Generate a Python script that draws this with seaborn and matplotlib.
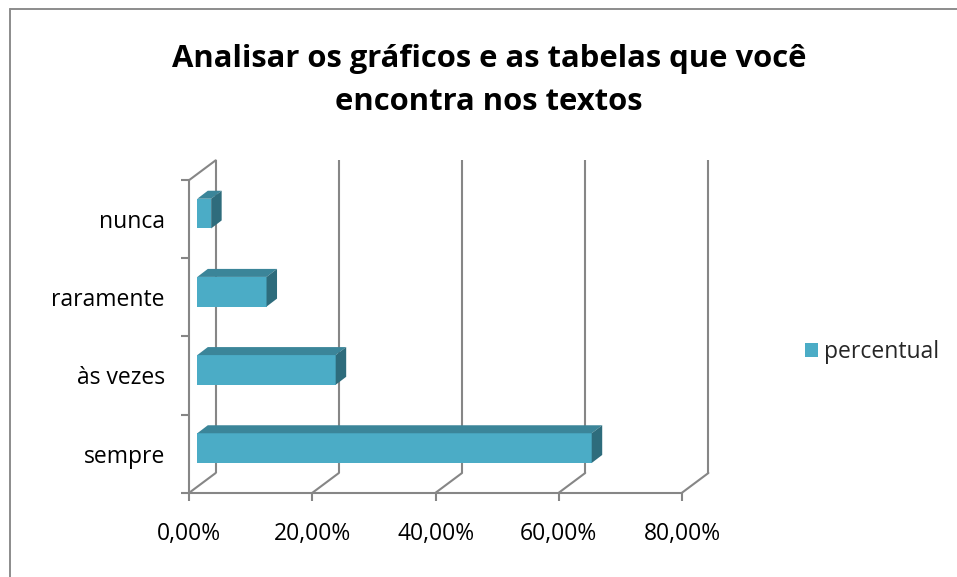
import numpy as np
import pandas as pd
import matplotlib
matplotlib.use("Agg")
import matplotlib.pyplot as plt
import seaborn as sns
from matplotlib.transforms import Affine2D, IdentityTransform
from matplotlib.patches import Polygon, Patch
from matplotlib.lines import Line2D

# ---- data ----
categories = ["nunca", "raramente", "às vezes", "sempre"]
percentual = [0.0225, 0.1124, 0.2247, 0.6404]
xticks = [0.0, 0.2, 0.4, 0.6, 0.8]
xtick_labels = ["0,00%", "20,00%", "40,00%", "60,00%", "80,00%"]
title = "Analisar os gráficos e as tabelas que você\nencontra nos textos"
series_name = "percentual"

# ---- style ----
sns.set_theme(style="white")
plt.rcParams["font.family"] = ["Open Sans", "DejaVu Sans"]

FRONT = "#4BACC6"
TOP = "#3B8599"
SIDE = "#2E6C7C"
GRID = "#868686"
W, H = 957, 577

fig = plt.figure(figsize=(W / 100, H / 100), dpi=100)
fig.patch.set_facecolor("white")

# front plane of the plot area (pixels)
x0p, x1p, ytop, ybot = 189.3, 682.0, 180.0, 492.7
ax = fig.add_axes([x0p / W, 1 - ybot / H, (x1p - x0p) / W, (ybot - ytop) / H])

df = pd.DataFrame({"categoria": categories, "percentual": percentual})
sns.barplot(data=df, y="categoria", x="percentual", order=categories,
            color=FRONT, saturation=1, width=0.38, orient="h", ax=ax,
            edgecolor="none", zorder=3)

ax.set_xlim(0, 0.8)
ax.set_ylim(len(categories) - 0.5, -0.5)
ax.set_facecolor("none")
ax.set_xlabel("")
ax.set_ylabel("")

# depth offsets (pixels)
WALL = (26.4, 19.7)
BAR_POS = (8.0, 5.5)
BAR_DEPTH = (10.5, 8.0)

# bars moved into their depth plane
bar_tr = ax.transData + Affine2D().translate(*BAR_POS)
for p in ax.patches:
    p.set_transform(bar_tr)

# spines / ticks
for s in ["top", "right"]:
    ax.spines[s].set_visible(False)
for s in ["left", "bottom"]:
    ax.spines[s].set_color(GRID)
    ax.spines[s].set_linewidth(1.5)

ax.set_xticks(xticks)
ax.set_xticklabels(xtick_labels)
ax.tick_params(axis="x", length=6, width=1.5, color=GRID, pad=15,
               labelsize=16.5, labelcolor="#000000", direction="out", bottom=True)
ax.set_yticks(np.arange(len(categories) + 1) - 0.5, minor=True)
ax.tick_params(axis="y", which="minor", length=6, width=1.5, color=GRID, left=True)
ax.tick_params(axis="y", which="major", length=0, pad=17.5, labelsize=16.5,
               labelcolor="#000000")

# walls: back vertical gridlines and floor / side depth lines
wall_tr = ax.transData + Affine2D().translate(*WALL)
ylo, yhi = ax.get_ylim()
ax.vlines(xticks, yhi, ylo, colors=GRID, linewidth=1.5, transform=wall_tr,
          zorder=1, clip_on=False)
for xv in xticks:
    px, py = ax.transData.transform((xv, ylo))
    ax.add_line(Line2D([px, px + WALL[0]], [py, py + WALL[1]], color=GRID,
                       linewidth=1.5, transform=IdentityTransform(), zorder=1,
                       clip_on=False))
px, py = ax.transData.transform((0, yhi))
ax.add_line(Line2D([px, px + WALL[0]], [py, py + WALL[1]], color=GRID,
                   linewidth=1.5, transform=IdentityTransform(), zorder=1,
                   clip_on=False))

# 3D faces of the bars
for p in ax.patches:
    bx, by = p.get_x(), p.get_y()
    bw, bh = p.get_width(), p.get_height()
    (l, b) = bar_tr.transform((bx, by + bh))
    (r, t) = bar_tr.transform((bx + bw, by))
    dx, dy = BAR_DEPTH
    top = Polygon([(l, t), (r, t), (r + dx, t + dy), (l + dx, t + dy)],
                  closed=True, facecolor=TOP, edgecolor="none",
                  transform=IdentityTransform(), zorder=3, clip_on=False)
    side = Polygon([(r, t), (r, b), (r + dx, b + dy), (r + dx, t + dy)],
                   closed=True, facecolor=SIDE, edgecolor="none",
                   transform=IdentityTransform(), zorder=3, clip_on=False)
    ax.add_patch(top)
    ax.add_patch(side)

# title (baseline of the last line)
fig.text(489 / W, 1 - 110 / H, title, ha="center", va="baseline",
         fontsize=22.3, fontweight="bold", color="#000000", linespacing=1.55,
         multialignment="center")

# legend
fig.legend(handles=[Patch(facecolor=FRONT, edgecolor="none", label=series_name)],
           loc="center left", bbox_to_anchor=(805 / W, 1 - 352 / H),
           frameon=False, fontsize=16.5, handlelength=0.55, handleheight=0.55,
           handletextpad=0.3, borderpad=0, borderaxespad=0)

# chart border
fig.add_artist(Line2D([9.5 / W, 1], [1 - 8.5 / H, 1 - 8.5 / H], color="#8C8C8C",
                      linewidth=1.4, transform=fig.transFigure))
fig.add_artist(Line2D([9.5 / W, 9.5 / W], [0, 1 - 8.5 / H], color="#8C8C8C",
                      linewidth=1.4, transform=fig.transFigure))

fig.savefig("out.png", dpi=100, facecolor="white")
